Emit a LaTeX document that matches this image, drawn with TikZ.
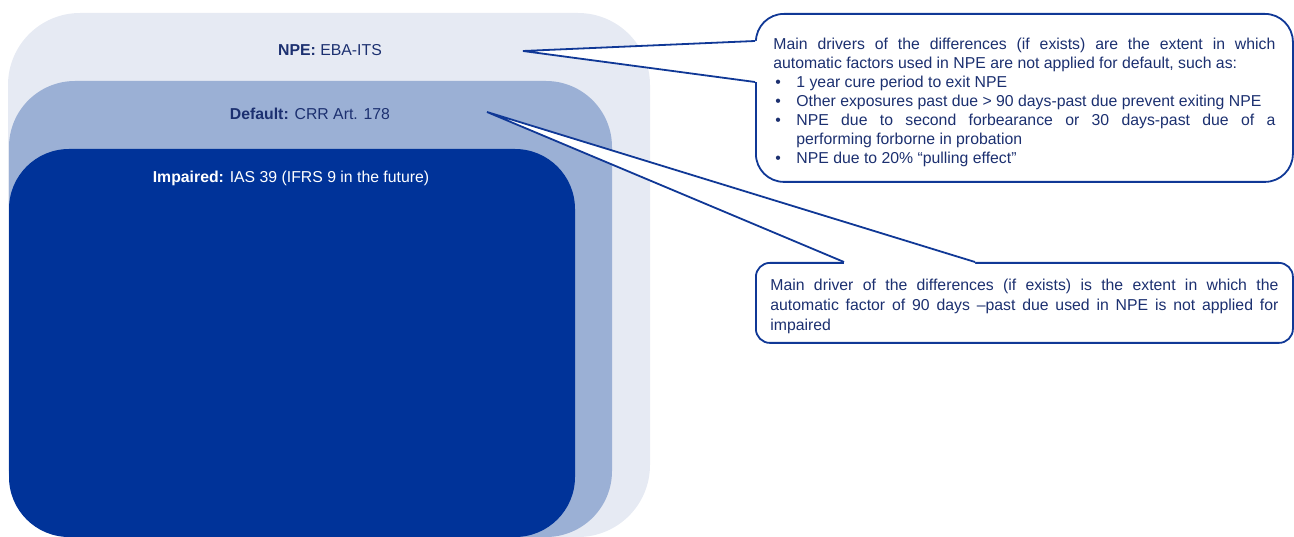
\documentclass[tikz,border=0pt]{standalone}
\usepackage{fontspec}
\setmainfont{Liberation Sans}
\definecolor{npefill}{RGB}{230,234,243}
\definecolor{deffill}{RGB}{155,176,213}
\definecolor{impfill}{RGB}{0,51,153}
\definecolor{calline}{RGB}{16,56,150}
\definecolor{caltext}{RGB}{28,48,112}
\tolerance=9999 \hbadness=10000 \exhyphenpenalty=10000 \hyphenpenalty=10000
\newcommand\bul{\par\hangindent=23pt\hangafter=1\noindent\makebox[23pt][l]{\hspace{2pt}\textbullet}}
\tikzset{
  lbl/.style={text=caltext, font=\fontsize{15.8}{19}\selectfont, inner sep=0pt},
  callbox/.style={draw=calline, line width=1.8pt, fill=white, text=caltext, align=justify,
    anchor=north west, inner ysep=0pt, font=\fontsize{15.8}{19}\selectfont},
  wedge/.style={draw=calline, line width=1.8pt}
}
\begin{document}
\begin{tikzpicture}[x=1pt,y=-1pt]
\useasboundingbox (0,0) rectangle (1294,537);
\fill[npefill, rounded corners=72pt] (8,13) rectangle (650,537);
\fill[deffill, rounded corners=66pt] (9,81) rectangle (612,537);
\fill[impfill, rounded corners=60pt] (9,149) rectangle (575,537);
\node[lbl] (npelbl) at (330,50) {\textbf{NPE:} EBA-ITS};
\node[lbl] (deflbl) at (310,114) {\textbf{Default:} CRR Art. 178};
\node[lbl, text=white] (implbl) at (291,178) {\textbf{Impaired:} IAS 39 (IFRS 9 in the future)};
\node[callbox, text width=502pt, inner xsep=17.5pt, minimum height=168pt, rounded corners=28pt] (drvdef) at (755,13)
  {\rule{0pt}{20pt}Main drivers of the differences (if exists) are the extent in which\linebreak
   automatic factors used in NPE are not applied for default, such as:
   \bul 1 year cure period to exit NPE
   \bul Other exposures past due > 90 days-past due prevent exiting NPE
   \bul NPE due to second forbearance or 30 days-past due of a\linebreak performing forborne in probation
   \bul NPE due to 20\% “pulling effect”};
\node[callbox, text width=508pt, inner xsep=14.5pt, minimum height=80pt, rounded corners=14pt,
  font=\fontsize{15.8}{20}\selectfont] (drvimp) at (755,262)
  {\rule{0pt}{18pt}Main driver of the differences (if exists) is the extent in which the\linebreak
   automatic factor of 90 days --past due used in NPE is not applied for\linebreak impaired};
\coordinate (deftip) at (523,51);
\coordinate (imptip) at (487,112);
\coordinate (d1) at ([yshift=-28pt]drvdef.north west);
\coordinate (d2) at ([yshift=-69pt]drvdef.north west);
\coordinate (i1) at ([xshift=89pt]drvimp.north west);
\coordinate (i2) at ([xshift=220pt]drvimp.north west);
\fill[white] (d1) -- (deftip) -- (d2) -- ([xshift=3pt]d2) -- ([xshift=3pt]d1) -- cycle;
\draw[wedge] (d1) -- (deftip) -- (d2);
\fill[white] (i1) -- (imptip) -- (i2) -- ([yshift=-3pt]i2) -- ([yshift=-3pt]i1) -- cycle;
\draw[wedge] (i1) -- (imptip) -- (i2);
\end{tikzpicture}
\end{document}
